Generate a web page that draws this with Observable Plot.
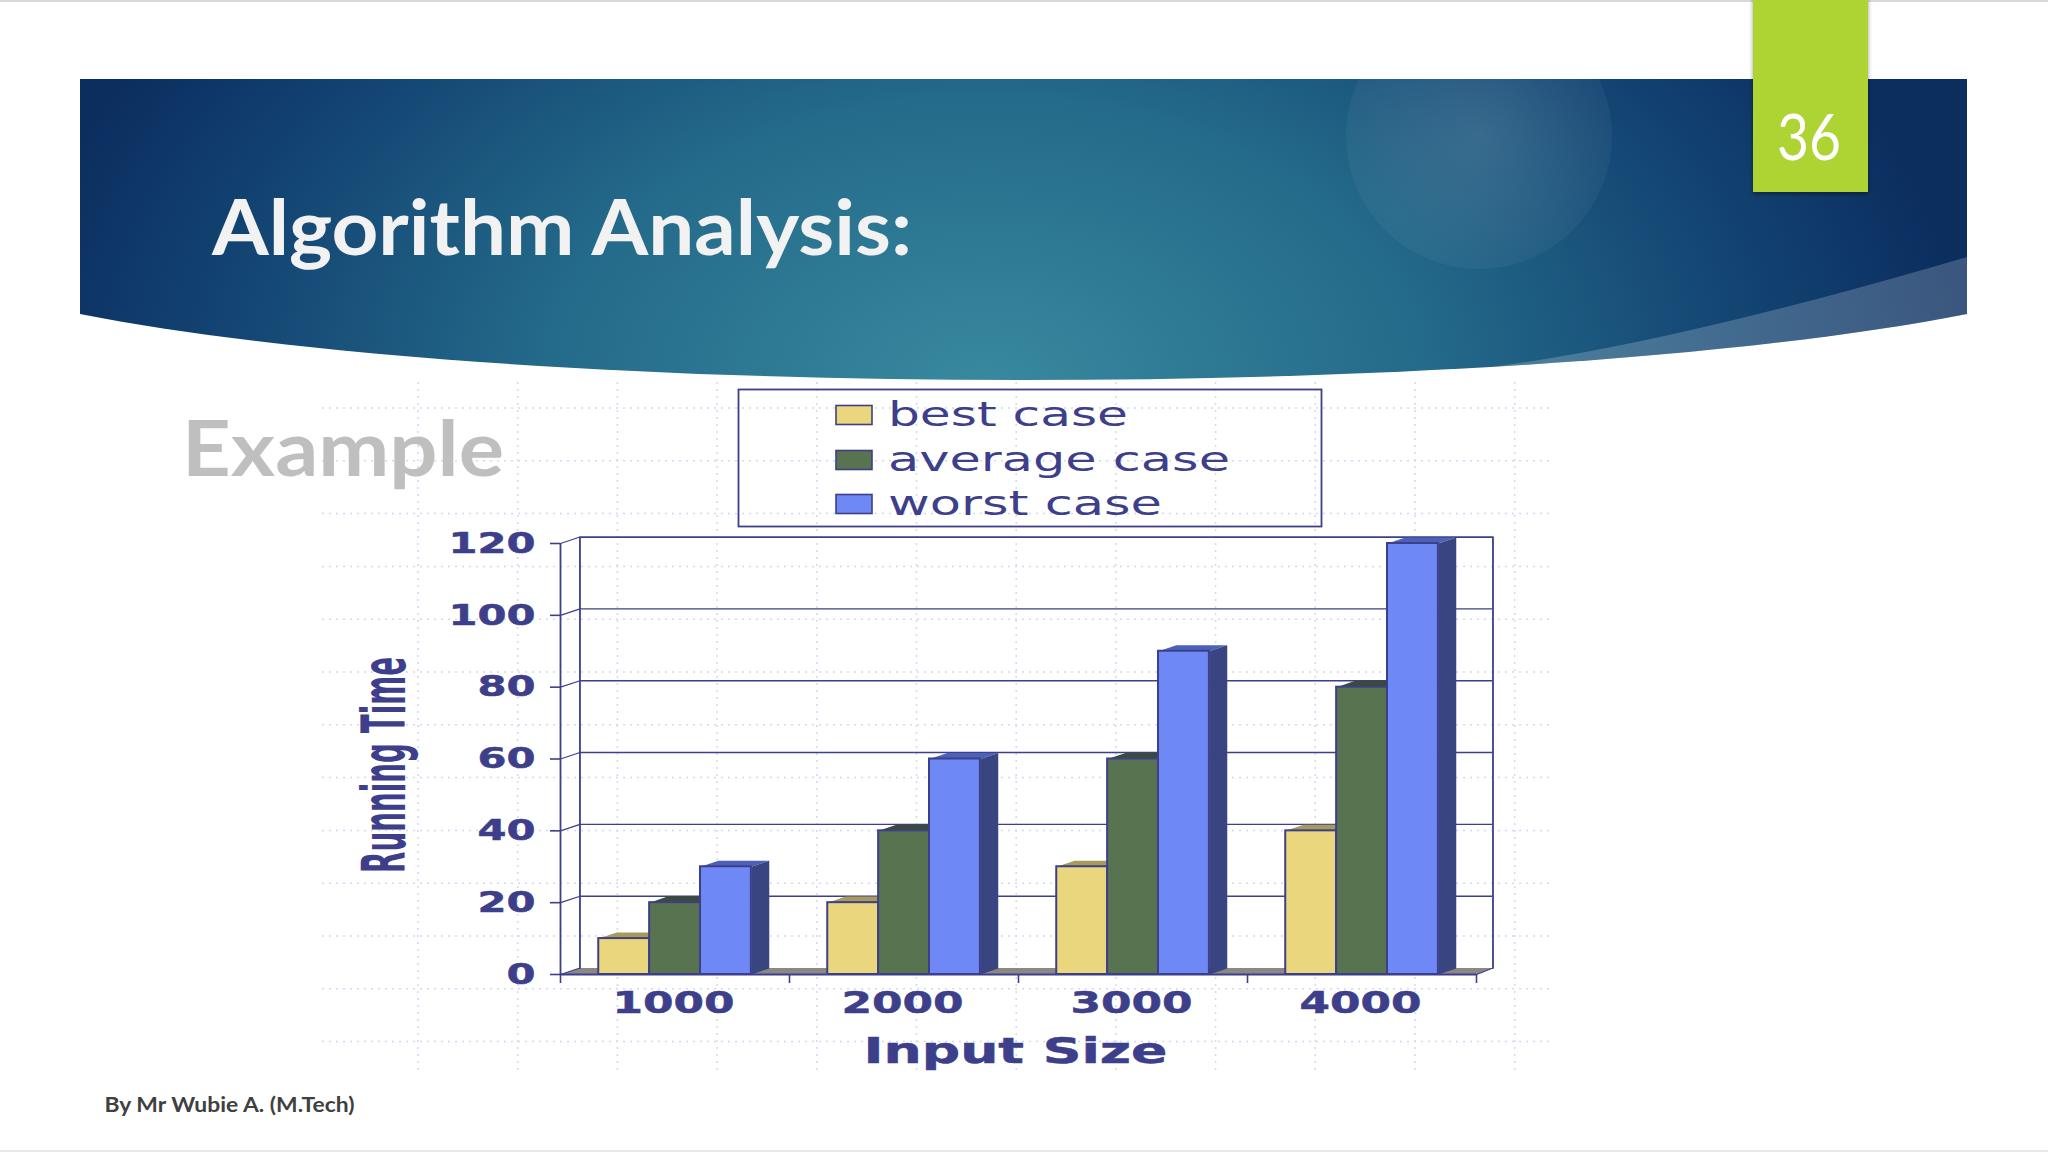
<!DOCTYPE html>
<html>
<head>
<meta charset="utf-8">
<script src="https://cdn.jsdelivr.net/npm/d3@7"></script>
<script src="https://cdn.jsdelivr.net/npm/@observablehq/plot@0.6"></script>
<style>
html,body{margin:0;padding:0;background:#fff;overflow:hidden}
#slide{position:relative;width:2048px;height:1152px;overflow:hidden;background:#fff}
#slide>svg{position:absolute;left:0;top:0}
#chart{position:absolute;left:0;top:0}
</style>
</head>
<body>
<div id="slide">
<svg id="decor" width="2048" height="1152">
  <defs>
    <radialGradient id="bg" gradientUnits="userSpaceOnUse" cx="0" cy="0" r="1"
      gradientTransform="translate(985 385) scale(980 640)">
      <stop offset="0" stop-color="#38899f"/>
      <stop offset="0.45" stop-color="#246a8a"/>
      <stop offset="0.8" stop-color="#124271"/>
      <stop offset="1" stop-color="#0b2e5f"/>
    </radialGradient>
    <clipPath id="bannerClip"><path d="M80 79H1967V314C1517 402 530 402 80 314Z"/></clipPath>
    <radialGradient id="orb"><stop offset="0" stop-color="#fff" stop-opacity=".13"/><stop offset="1" stop-color="#fff" stop-opacity=".04"/></radialGradient>
    <filter id="shadow" x="-20%" y="-20%" width="140%" height="140%"><feDropShadow dx="0" dy="2" stdDeviation="2" flood-color="#000" flood-opacity=".4"/></filter>
  </defs>
  <rect x="0" y="0" width="2048" height="2" fill="#d9d9d9"/>
  <rect x="0" y="1150" width="2048" height="2" fill="#e8e8e8"/>
  <g id="dots" stroke="#d4d8f2" stroke-width="1.5" stroke-dasharray="2 5"></g>
  <path d="M80 79H1967V314C1517 402 530 402 80 314Z" fill="url(#bg)"/>
  <g clip-path="url(#bannerClip)">
    <circle cx="1479" cy="136" r="133" fill="url(#orb)"/>
    <path d="M1967 257Q1671 344 1491 367L1967 420Z" fill="#fff" fill-opacity=".2"/>
  </g>
  <rect x="1753" y="-4" width="115" height="196" fill="#add431" filter="url(#shadow)"/>
  <text x="1809" y="160" text-anchor="middle" font-family="Lato" font-weight="400" font-size="64" textLength="64" lengthAdjust="spacingAndGlyphs" fill="#fff">36</text>
  <text x="212" y="255" font-family="Lato" font-weight="700" font-size="76" textLength="700" lengthAdjust="spacingAndGlyphs" fill="#f2f2f2">Algorithm Analysis:</text>
  <text x="182" y="476" font-family="Lato" font-weight="700" font-size="77" textLength="322" lengthAdjust="spacingAndGlyphs" fill="#bfbfbf">Example</text>
  <text x="104.5" y="1112" font-family="Lato" font-weight="700" font-size="21" textLength="250" lengthAdjust="spacingAndGlyphs" fill="#404040">By Mr Wubie A. (M.Tech)</text>
</svg>
<div id="chart"></div>
<svg id="legend" width="2048" height="1152" style="pointer-events:none"></svg>
</div>
<script>
// ---- data ----
const inputSizes = ["1000", "2000", "3000", "4000"];
const seriesNames = ["best case", "average case", "worst case"];
const bestCase = [10, 20, 30, 40];
const averageCase = [20, 40, 60, 80];
const worstCase = [30, 60, 90, 120];
const yTicks = [0, 20, 40, 60, 80, 100, 120];
const xEdges = [0, 1, 2, 3, 4];
const frontColors = ["#ead67c", "#587350", "#6e88f5"];
const topColors = ["#a89a5a", "#3a4b38", "#4b62b8"];
const sideColors = ["#8a7f4a", "#36463a", "#394580"];
const legendTextWidths = [240, 342, 274];

// ---- styling / layout ----
const ink = "#3d3f8a";
const wallDx = 0.085, wallDy = 1.8;    // pseudo-3D depth of the plot box, in data units
const wallDxRight = 0.072;
const barDx = 0.078, barDy = 1.7;      // pseudo-3D depth of a bar
const groupInset = 0.167, barW = 0.2222;

const seriesValues = [bestCase, averageCase, worstCase];
const bars = [];
inputSizes.forEach((size, g) => seriesValues.forEach((vals, s) => {
  const x1 = g + groupInset + s * barW;
  bars.push({size, series: seriesNames[s], s, x1, x2: x1 + barW, v: vals[g]});
}));
const faces = [];
bars.forEach((b, i) => {
  [[b.x1, b.v], [b.x2, b.v], [b.x2 + barDx, b.v + barDy], [b.x1 + barDx, b.v + barDy], [b.x1, b.v]]
    .forEach(([x, y]) => faces.push({x, y, id: "t" + i, fill: topColors[b.s]}));
  [[b.x2, 0], [b.x2, b.v], [b.x2 + barDx, b.v + barDy], [b.x2 + barDx, barDy], [b.x2, 0]]
    .forEach(([x, y]) => faces.push({x, y, id: "s" + i, fill: sideColors[b.s]}));
});
const floorFace = [[0, 0], [4, 0], [4 + wallDxRight, wallDy], [wallDx, wallDy], [0, 0]].map(([x, y]) => ({x, y}));
const yMax = yTicks[yTicks.length - 1];

const stretch = (len) => (index, scales, values, dims, ctx, next) => {
  const g = next(index, scales, values, dims, ctx);
  d3.select(g).selectAll("text").each(function (_, k) {
    this.setAttribute("textLength", typeof len === "function" ? len(this.textContent, k) : len);
    this.setAttribute("lengthAdjust", "spacingAndGlyphs");
  });
  return g;
};

const chart = Plot.plot({
  width: 2048, height: 1152,
  marginLeft: 560, marginRight: 572, marginTop: 543, marginBottom: 178,
  style: {background: "transparent", overflow: "visible"},
  x: {domain: [0, 4], axis: null},
  y: {domain: [0, 120], axis: null},
  color: {type: "identity"},
  marks: [
    // floor
    Plot.line(floorFace, {x: "x", y: "y", fill: "#8a8785", stroke: "none"}),
    // back wall gridlines + connectors to the front axis
    Plot.ruleY(yTicks.slice(1, -1), {y: d => d + wallDy, x1: wallDx, x2: 4 + wallDxRight, stroke: ink, strokeWidth: 1.4}),
    Plot.link(yTicks, {x1: 0, y1: d => d, x2: wallDx, y2: d => d + wallDy, stroke: ink, strokeWidth: 1.2}),
    Plot.link([0], {x1: 4, y1: 0, x2: 4 + wallDxRight, y2: wallDy, stroke: ink, strokeWidth: 1.2}),
    // back-wall frame
    Plot.line([[wallDx, wallDy], [wallDx, yMax + wallDy], [4 + wallDxRight, yMax + wallDy], [4 + wallDxRight, wallDy]],
      {x: d => d[0], y: d => d[1], stroke: ink, strokeWidth: 1.8}),
    // bar tops & sides
    Plot.line(faces, {x: "x", y: "y", z: "id", fill: "fill", stroke: "none"}),
    // bar fronts
    Plot.rectY(bars, {x1: "x1", x2: "x2", y1: 0, y2: "v", fill: d => frontColors[d.s], stroke: ink, strokeWidth: 2}),
    // axes
    Plot.ruleX([0], {y1: 0, y2: yMax, stroke: ink, strokeWidth: 1.8}),
    Plot.ruleY([0], {x1: 0, x2: 4, stroke: ink, strokeWidth: 1.8}),
    Plot.axisY({ticks: yTicks, tickSize: 10, tickFormat: () => "", stroke: ink, strokeWidth: 1.6, label: null}),
    Plot.axisX({ticks: xEdges, tickSize: 9, tickFormat: () => "", stroke: ink, strokeWidth: 1.6, label: null}),
    // tick labels
    Plot.text(yTicks, {x: 0, y: d => d, text: d => String(d), textAnchor: "end", dx: -25,
      fontFamily: "DejaVu Sans", fontWeight: 700, fontSize: 29, fill: ink, stroke: ink, strokeWidth: 0.5,
      render: stretch(t => 29 * t.length)}),
    Plot.text(inputSizes, {x: (d, i) => i + 0.5, y: 0, text: d => d, dy: 29, dx: -1.5,
      fontFamily: "DejaVu Sans", fontWeight: 700, fontSize: 30, fill: ink, stroke: ink, strokeWidth: 0.5,
      render: stretch(122)}),
    // axis titles
    Plot.text(["Input Size"], {x: 2, y: 0, text: d => d, dy: 77, dx: -3,
      fontFamily: "DejaVu Sans", fontWeight: 700, fontSize: 36, fill: ink, stroke: ink, strokeWidth: 0.5,
      render: stretch(304)}),
    Plot.text(["Running Time"], {x: 0, y: 60, text: d => d, rotate: -90, dx: -175, dy: 6,
      fontFamily: "DejaVu Sans", fontWeight: 700, fontSize: 60, fill: ink,
      render: stretch(216)})
  ]
});
document.getElementById("chart").append(chart);

// faint dotted sheet behind the chart
const dots = d3.select("#dots");
d3.range(12).forEach(i => { const x = 418 + i * 99.7;
  dots.append("line").attr("x1", x).attr("x2", x).attr("y1", 382).attr("y2", 1072); });
d3.range(13).forEach(i => { const y = 408 + i * 52.8;
  dots.append("line").attr("x1", 322).attr("x2", 1552).attr("y1", y).attr("y2", y); });

// legend
const lg = d3.select("#legend");
lg.append("rect").attr("x", 738.5).attr("y", 389.5).attr("width", 583).attr("height", 137)
  .attr("fill", "none").attr("stroke", ink).attr("stroke-width", 1.8);
const rowY = [415, 460, 504];
seriesNames.forEach((n, i) => {
  lg.append("rect").attr("x", 836).attr("y", rowY[i] - 9.5).attr("width", 36).attr("height", 19)
    .attr("fill", frontColors[i]).attr("stroke", ink).attr("stroke-width", 1.6);
  lg.append("text").attr("x", 888).attr("y", rowY[i] + 11)
    .attr("font-family", "DejaVu Sans").attr("font-size", 33).attr("fill", ink)
    .attr("textLength", legendTextWidths[i]).attr("lengthAdjust", "spacingAndGlyphs").text(n);
});
</script>
</body>
</html>
